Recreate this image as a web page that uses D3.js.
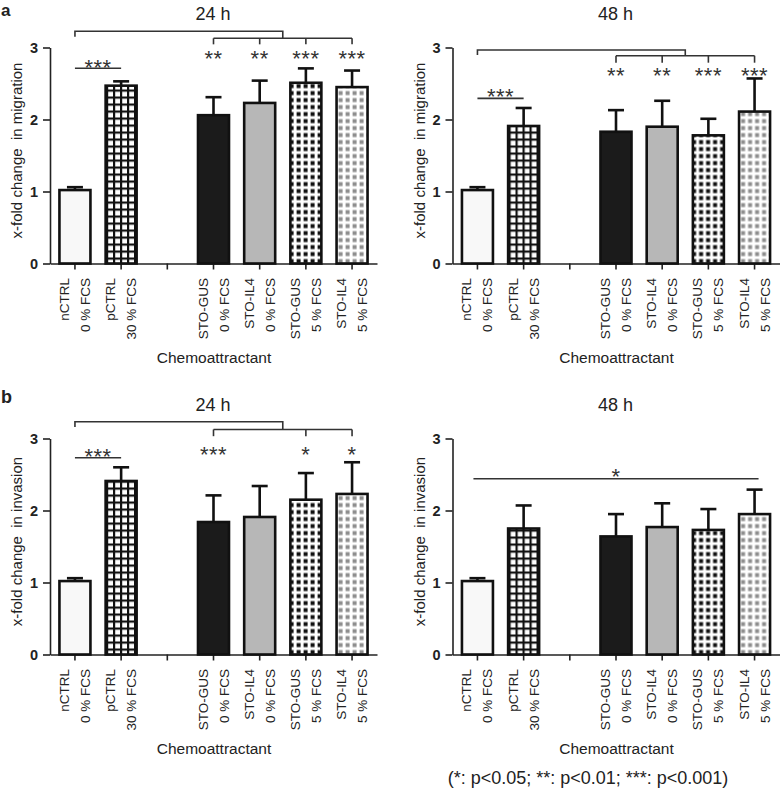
<!DOCTYPE html>
<html><head><meta charset="utf-8">
<script src="https://cdn.jsdelivr.net/npm/d3@7"></script>
<style>
body{margin:0;background:#fff}
svg{display:block}
text{font-family:"Liberation Sans",Arial,Helvetica,sans-serif}
</style>
</head><body>
<svg id="c" width="784" height="790"></svg>
<script>
// ---------- data ----------
const categories = ["nCTRL|0 % FCS", "pCTRL|30 % FCS", "", "STO-GUS|0 % FCS", "STO-IL4|0 % FCS", "STO-GUS|5 % FCS", "STO-IL4|5 % FCS"];
const yTicks = [0, 1, 2, 3];

const migration24 = [1.02, 2.47, null, 2.06, 2.23, 2.51, 2.45];
const migration24Err = [0.04, 0.06, null, 0.25, 0.31, 0.20, 0.23];
const migration24Stars = ["", "", "", "**", "**", "***", "***"];

const migration48 = [1.02, 1.91, null, 1.83, 1.90, 1.78, 2.11];
const migration48Err = [0.04, 0.25, null, 0.30, 0.36, 0.23, 0.46];
const migration48Stars = ["", "", "", "**", "**", "***", "***"];

const invasion24 = [1.02, 2.41, null, 1.84, 1.91, 2.15, 2.23];
const invasion24Err = [0.04, 0.19, null, 0.37, 0.43, 0.37, 0.44];
const invasion24Stars = ["", "", "", "***", "", "*", "*"];

const invasion48 = [1.02, 1.75, null, 1.64, 1.77, 1.73, 1.95];
const invasion48Err = [0.04, 0.32, null, 0.31, 0.33, 0.29, 0.34];

const footnote = "(*: p<0.05; **: p<0.01; ***: p<0.001)";

// ---------- setup ----------
const svg = d3.select("#c");
const FONT = '"Liberation Sans",Arial,Helvetica,sans-serif';
const defs = svg.append("defs");
function pat(id, draw) {
  const p = defs.append("pattern").attr("id", id).attr("patternUnits", "userSpaceOnUse")
    .attr("width", 7).attr("height", 7);
  p.append("rect").attr("width", 7).attr("height", 7).attr("fill", "#fff");
  draw(p);
}
pat("gridW", p => {
  p.append("rect").attr("width", 7).attr("height", 2.2).attr("fill", "#111");
  p.append("rect").attr("width", 2.2).attr("height", 7).attr("fill", "#111");
});
pat("dotsB", p => p.append("rect").attr("x", 1.6).attr("y", 1.6).attr("width", 4).attr("height", 4).attr("fill", "#111"));
pat("dotsG", p => p.append("rect").attr("x", 1.6).attr("y", 1.6).attr("width", 4).attr("height", 4).attr("fill", "#8e8e8e"));

const barFill = ["#f8f8f8", "url(#gridW)", "none", "#1b1b1b", "#b7b7b7", "url(#dotsB)", "url(#dotsG)"];

const W = 327, H = 216;

function drawPanel(cfg) {
  const g = svg.append("g").attr("transform", `translate(${cfg.x0},${cfg.y0})`);
  const x = d3.scaleBand().domain(categories).range([0, W]).paddingInner(0).paddingOuter(0.04);
  const y = d3.scaleLinear().domain([0, 3]).range([H, 0]);
  const cx = i => x(categories[i]) + x.bandwidth() / 2;

  // y axis
  const ya = g.append("g").call(d3.axisLeft(y).tickValues(yTicks).tickFormat(d3.format("d"))
    .tickSize(7).tickPadding(5).tickSizeOuter(0));
  ya.select(".domain").attr("stroke", "#222").attr("stroke-width", 1.6);
  ya.selectAll(".tick line").attr("stroke", "#222").attr("stroke-width", 1.6);
  ya.selectAll(".tick text").attr("font-size", 14.5).attr("font-weight", "bold")
    .attr("fill", "#222").attr("font-family", FONT);

  // x axis
  const xa = g.append("g").attr("transform", `translate(0,${H})`)
    .call(d3.axisBottom(x).tickSize(6).tickSizeOuter(0).tickFormat(""));
  xa.select(".domain").attr("stroke", "#222").attr("stroke-width", 1.6);
  xa.selectAll(".tick line").attr("stroke", "#222").attr("stroke-width", 1.6);

  // x tick labels (two rotated lines)
  categories.forEach((c, i) => {
    if (!c) return;
    const [l1, l2] = c.split("|");
    const t = g.append("g").attr("transform", `translate(${cx(i)},${H + 14.5}) rotate(-90)`);
    t.append("text").attr("text-anchor", "end").attr("x", 0).attr("y", -6)
      .attr("font-size", 13.5).attr("fill", "#222").text(l1);
    t.append("text").attr("text-anchor", "end").attr("x", 0).attr("y", 15)
      .attr("font-size", 13.5).attr("fill", "#222").text(l2);
  });

  // bars
  const data = categories.map((c, i) => ({ c, i, v: cfg.vals[i], e: cfg.errs[i] })).filter(d => d.v != null);
  const bw = 31;
  g.append("g").selectAll("rect").data(data).join("rect")
    .attr("x", d => cx(d.i) - bw / 2).attr("y", d => y(d.v))
    .attr("width", bw).attr("height", d => H - y(d.v))
    .attr("fill", d => barFill[d.i]).attr("stroke", "#111").attr("stroke-width", 2.6);

  // error bars (upper only)
  const eg = g.append("g").attr("stroke", "#111").attr("stroke-width", 2.6);
  data.forEach(d => {
    eg.append("line").attr("x1", cx(d.i)).attr("x2", cx(d.i)).attr("y1", y(d.v)).attr("y2", y(d.v + d.e));
    eg.append("line").attr("x1", cx(d.i) - 8).attr("x2", cx(d.i) + 8).attr("y1", y(d.v + d.e)).attr("y2", y(d.v + d.e));
  });

  // annotations
  const a = cfg.ann;
  const ag = g.append("g").attr("fill", "none").attr("stroke", "#333").attr("stroke-width", 1.6);
  const starText = (sx, sy, s) => g.append("text").attr("x", sx).attr("y", y(sy) + 12.6)
    .attr("text-anchor", "middle").attr("font-size", 22).attr("letter-spacing", 0.5)
    .attr("fill", "#333").text(s);
  if (a.type === "bracket") {
    const g2 = [3, 6];
    const gx1 = cx(g2[0]), gx2 = cx(g2[1]), mid = (gx1 + gx2) / 2;
    ag.append("path").attr("d", `M${cx(0)},${y(a.topDrop)}V${y(a.top)}H${mid}V${y(a.br)}`);
    ag.append("path").attr("d", `M${gx1},${y(a.br)}H${gx2}`);
    a.drops.forEach(i => ag.append("path").attr("d", `M${cx(i)},${y(a.br)}V${y(a.brDrop)}`));
    ag.append("path").attr("d", `M${cx(0)},${y(a.pairY)}H${cx(1)}`);
    starText((cx(0) + cx(1)) / 2, a.pairStarY, "***");
    cfg.stars.forEach((s, i) => { if (s) starText(cx(i), a.starY, s); });
  } else {
    ag.append("path").attr("d", `M${cx(0) - 4},${y(a.lineY)}H${cx(6) + 4}`);
    starText((cx(0) + cx(6)) / 2, a.starY, "*");
  }

  // titles & labels
  g.append("text").attr("x", 163).attr("y", -27.5).attr("text-anchor", "middle")
    .attr("font-size", 18).attr("fill", "#222").text(cfg.title);
  g.append("text").attr("transform", `translate(-28,${H / 2 - 5}) rotate(-90)`)
    .attr("text-anchor", "middle").attr("font-size", 15).attr("fill", "#222")
    .style("white-space", "pre").text(cfg.ylab);
  g.append("text").attr("x", 164).attr("y", 315).attr("text-anchor", "middle")
    .attr("font-size", 15.5).attr("fill", "#222").text("Chemoattractant");
}

drawPanel({ x0: 50, y0: 47.5, title: "24 h", ylab: "x-fold change  in migration",
  vals: migration24, errs: migration24Err, stars: migration24Stars,
  ann: { type: "bracket", top: 3.225, topDrop: 3.15, br: 3.128, brDrop: 3.044, drops: [3, 4, 5, 6], starY: 2.924, pairY: 2.711, pairStarY: 2.80 } });
drawPanel({ x0: 452.5, y0: 47.5, title: "48 h", ylab: "x-fold change  in migration",
  vals: migration48, errs: migration48Err, stars: migration48Stars,
  ann: { type: "bracket", top: 2.965, topDrop: 2.896, br: 2.886, brDrop: 2.789, drops: [3, 4, 5, 6], starY: 2.678, pairY: 2.294, pairStarY: 2.386 } });
drawPanel({ x0: 50, y0: 438.5, title: "24 h", ylab: "x-fold change  in invasion",
  vals: invasion24, errs: invasion24Err, stars: invasion24Stars,
  ann: { type: "bracket", top: 3.232, topDrop: 3.16, br: 3.125, brDrop: 3.032, drops: [3, 5, 6], starY: 2.847, pairY: 2.732, pairStarY: 2.824 } });
drawPanel({ x0: 452.5, y0: 438.5, title: "48 h", ylab: "x-fold change  in invasion",
  vals: invasion48, errs: invasion48Err, stars: null,
  ann: { type: "line", lineY: 2.44, starY: 2.537 } });

// panel letters & footnote
svg.append("text").attr("x", 1).attr("y", 15.5).attr("font-size", 17).attr("font-weight", "bold").attr("fill", "#222").text("a");
svg.append("text").attr("x", 1).attr("y", 403).attr("font-size", 18).attr("font-weight", "bold").attr("fill", "#222").text("b");
svg.append("text").attr("x", 588).attr("y", 784).attr("text-anchor", "middle").attr("font-size", 18).attr("fill", "#222").text(footnote);
</script>
</body></html>
